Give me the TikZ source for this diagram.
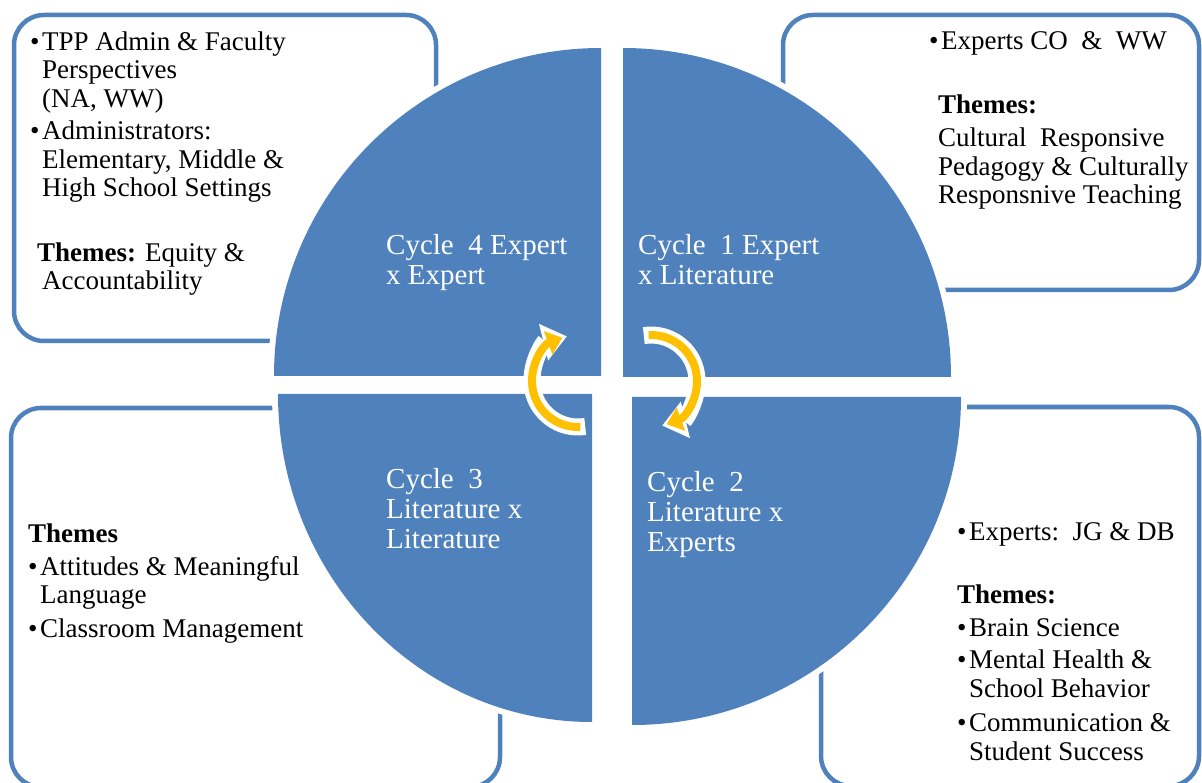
\documentclass[tikz,border=0pt]{standalone}
\usepackage{fontspec}
\setmainfont{Liberation Serif}
\usetikzlibrary{arrows.meta}

\definecolor{cycblue}{HTML}{4F81BD}
\definecolor{cycyellow}{HTML}{FFC000}

\newcommand{\bul}{\makebox[12pt][l]{\textbullet}}
\newcommand{\hang}{\hspace*{12pt}}

\tikzset{
    boxline/.style={draw=cycblue, line width=4.5pt, rounded corners=30pt},
    quad/.style={fill=cycblue, preaction={draw=white, line width=12pt}},
    boxtext/.style={anchor=base west, align=left, inner sep=0pt, font=\fontsize{27}{28.5}\selectfont},
    cyctext/.style={boxtext, text=white, font=\fontsize{29}{30}\selectfont},
    arrowhalo/.style={draw=white, line width=17pt, -{Triangle[width=36pt, length=24pt]}},
    arrowbody/.style={draw=cycyellow, line width=8pt, -{Triangle[width=24pt, length=15pt]}},
}

\begin{document}
\begin{tikzpicture}[x=1pt, y=-1pt]
    \useasboundingbox (0,0) rectangle (1202,783);
    \clip (0,0) rectangle (1202,783);

    \draw[boxline] (14,15) rectangle (436,341);
    \draw[boxline] (783,15) rectangle (1199,290);
    \draw[boxline] (821,407) rectangle (1199,786);
    \draw[boxline] (11,408) rectangle (500,787);

    \path[quad] (601,376) -- (274,376) arc[start angle=180, end angle=270, x radius=327, y radius=328] -- cycle;
    \path[quad] (623,377) -- (623,48) arc[start angle=270, end angle=360, x radius=328, y radius=329] -- cycle;
    \path[quad] (632,397) -- (961,397) arc[start angle=0, end angle=90, x radius=329, y radius=328] -- cycle;
    \path[quad] (592,394) -- (592,722) arc[start angle=90, end angle=180, x radius=314, y radius=328] -- cycle;

    % nodes sit on the baseline of their last line
    \node[cyctext] (cyc4) at (386,285) {Cycle\ \ 4 Expert\\x Expert};
    \node[cyctext] (cyc1) at (638,285) {Cycle\ \ 1 Expert\\x Literature};
    \node[cyctext] (cyc3) at (386,548) {Cycle\ \ 3\\Literature x\\Literature};
    \node[cyctext] (cyc2) at (647,551) {Cycle\ \ 2\\Literature x\\Experts};

    \draw[arrowhalo] (578,381) ++(81:46) arc[start angle=81, end angle=256, radius=46];
    \draw[arrowbody] (578,381) ++(87:46) arc[start angle=87, end angle=250, radius=46];
    \draw[arrowhalo] (651,381) ++(-99:46) arc[start angle=-99, end angle=76, radius=46];
    \draw[arrowbody] (651,381) ++(-93:46) arc[start angle=-93, end angle=70, radius=46];

    \node[boxtext] (tlList) at (30,197) {\bul TPP Admin \& Faculty\\\hang Perspectives\\\hang (NA, WW)\\[4pt]
        \bul Administrators:\\\hang Elementary, Middle \&\\\hang High School Settings};
    \node[boxtext] (tlThemes) at (37,290) {\textbf{Themes:} Equity \&\\\hspace*{5pt}Accountability};

    \node[boxtext] (trList) at (929,50) {\bul Experts CO\ \ \&\ \ WW};
    \node[boxtext] (trThemes) at (938,204) {\textbf{Themes:}\\[4.5pt]Cultural\ \ Responsive\\Pedagogy \& Culturally\\Responsnive Teaching};

    \node[boxtext] (brList) at (957,540) {\bul Experts:\ \ JG \& DB};
    \node[boxtext] (brThemes) at (957,760) {\textbf{Themes:}\\[4.5pt]\bul Brain Science\\[4pt]\bul Mental Health \&\\\hang School Behavior\\[6pt]
        \bul Communication \&\\\hang Student Success};

    \node[boxtext] (blThemes) at (28,637) {\textbf{Themes}\\[4.5pt]\bul Attitudes \& Meaningful\\\hang Language\\[5pt]\bul Classroom Management};
\end{tikzpicture}
\end{document}
